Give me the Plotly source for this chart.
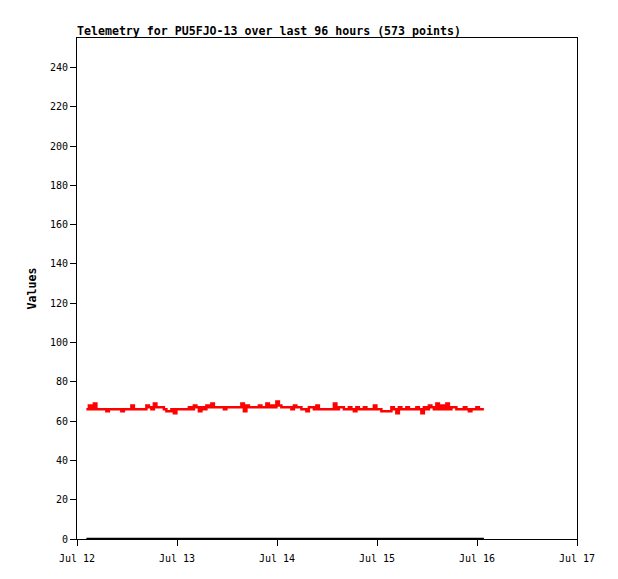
import pandas as pd
import plotly.graph_objects as go

# telemetry readings, one every 36 minutes
start_time = "2024-07-12 02:15"
step = "36min"
values = [
    66, 68, 66, 69, 66, 66, 66, 66, 65, 66, 66, 66, 66, 66, 65, 66,
    66, 66, 68, 66, 66, 66, 66, 66, 68, 67, 66, 69, 67, 67, 67, 66,
    65, 65, 66, 64, 66, 66, 66, 66, 66, 67, 66, 68, 67, 65, 67, 66,
    68, 67, 69, 67, 67, 67, 67, 66, 67, 67, 67, 67, 67, 67, 69, 65,
    68, 67, 67, 67, 67, 68, 67, 67, 69, 67, 68, 67, 70, 68, 67, 67,
    67, 67, 66, 68, 67, 67, 66, 66, 65, 67, 67, 66, 68, 66, 66, 66,
    66, 66, 66, 69, 66, 67, 67, 66, 66, 67, 66, 65, 67, 66, 66, 67,
    66, 66, 66, 68, 66, 66, 65, 65, 65, 65, 67, 66, 64, 67, 66, 66,
    67, 66, 66, 66, 67, 66, 64, 67, 66, 68, 67, 66, 69, 66, 68, 66,
    69, 66, 67, 67, 66, 66, 66, 67, 66, 65, 66, 66, 67, 66, 66, 66,
]
zero_values = [0] * len(values)

times = pd.date_range(start_time, periods=len(values), freq=step)

font = "DejaVu Sans Mono, Liberation Mono, monospace"

fig = go.Figure()
fig.add_trace(go.Scatter(x=times, y=zero_values, mode="lines",
                         line=dict(color="black", width=2.5),
                         cliponaxis=False, showlegend=False))
fig.add_trace(go.Scatter(x=times, y=values, mode="lines", line_shape="hv",
                         line=dict(color="#ff0000", width=2.5),
                         showlegend=False))

# the page body adds an 8px offset, margins are set to compensate
fig.update_layout(
    width=618, height=579,
    margin=dict(l=69, r=49, t=30, b=48),
    plot_bgcolor="white", paper_bgcolor="white",
    font=dict(family=font, size=10, color="black"),
    title=dict(text="<b>Telemetry for PU5FJO-13 over last 96 hours (573 points)</b>",
               x=69/618, xanchor="left", y=1-23/579, yanchor="middle",
               font=dict(family=font, size=11.6, color="black")),
)
fig.update_xaxes(
    range=["2024-07-12", "2024-07-17"], dtick=86400000, tickformat="%b %d",
    showgrid=False, zeroline=False, showline=True, linecolor="black", linewidth=1,
    mirror=True, ticks="outside", ticklen=6, tickcolor="black",
    ticklabelstandoff=4,
)
fig.update_yaxes(
    range=[0, 255], dtick=20, showgrid=False, zeroline=False,
    showline=True, linecolor="black", linewidth=1, mirror=True,
    ticks="outside", ticklen=6, tickcolor="black",
    title=dict(text="<b>Values</b>", standoff=10, font=dict(family=font, size=11.6)),
)

fig.write_html("out.html")
